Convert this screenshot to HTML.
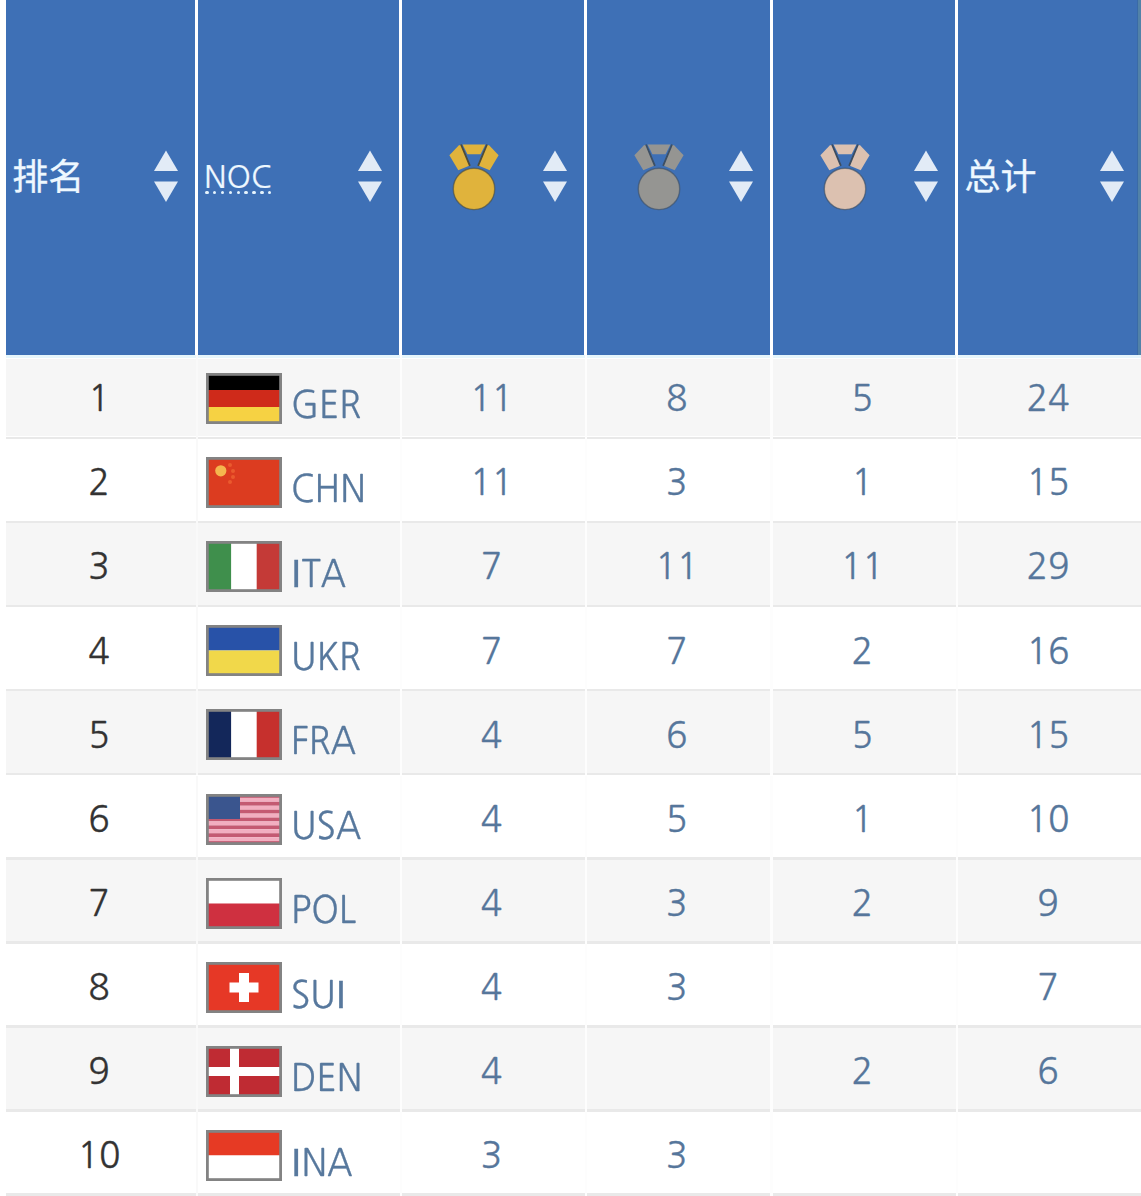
<!DOCTYPE html><html><head><meta charset="utf-8"><title>Medal table</title><style>
*{margin:0;padding:0;box-sizing:border-box}
html,body{width:1141px;height:1196px;overflow:hidden;background:#fff}
body{position:relative;font-family:"Liberation Sans","Noto Sans CJK SC",sans-serif}
.h{position:absolute;top:0;height:355px;background:#3e70b6}
.hl{position:absolute;color:#eef8ff;font-size:34px;line-height:1;white-space:nowrap}
.cj{font-family:"Noto Sans CJK SC","WenQuanYi Zen Hei",sans-serif;font-weight:400;-webkit-text-stroke:0.3px #eef8ff}
.noc{font-family:"NanumGothic","Liberation Sans",sans-serif;font-size:31px;-webkit-text-stroke:0.2px #eef8ff}
.dots i{position:absolute;top:190.5px;width:3.4px;height:3.4px;border-radius:50%;background:#e6f4fd}
.arr{position:absolute;filter:blur(0.6px)}
.medal{position:absolute;filter:blur(0.35px)}
.r{position:absolute;left:6px;width:1135px;height:84px}
.r .bg{position:absolute;left:0;right:0;top:0;height:81.5px}
.r .bd{position:absolute;left:0;right:0;top:81.5px;height:2.5px;background:#e9e9e9}
.g .bg{background:#f6f6f6}
.sep{position:absolute;top:0;height:84px;width:2.8px;background:#fdfdfd}
.sep.f{background:#f9f9f9;width:2.4px}
.n{position:absolute;font-family:"NanumGothic","Liberation Sans",sans-serif;font-size:35.5px;line-height:1;white-space:nowrap;color:#56769b;text-align:center}
.rk{color:#333}
.li{font-family:"Liberation Sans",sans-serif;font-size:39.5px}
.n,.code{-webkit-text-stroke:0.3px currentColor}
.flag{position:absolute}
.code{position:absolute;font-family:"NanumGothic","Liberation Sans",sans-serif;font-size:37px;line-height:1;color:#57789d;white-space:nowrap;transform-origin:0 0;transform:scaleX(0.95)}
</style></head><body>
<div class="h" style="left:6.0px;width:189.0px"></div>
<div class="h" style="left:198.0px;width:201.0px"></div>
<div class="h" style="left:402.0px;width:182.0px"></div>
<div class="h" style="left:587.0px;width:182.5px"></div>
<div class="h" style="left:772.5px;width:182.5px"></div>
<div class="h" style="left:958.0px;width:183.0px"></div>
<div style="position:absolute;left:1137px;top:0;width:1px;height:355px;background:#3a6aa6"></div>
<div style="position:absolute;left:1138px;top:0;width:3px;height:355px;background:#5282a8"></div>
<div class="hl cj" style="left:12.3px;top:155.5px;font-size:36px">排名</div>
<div class="hl noc" style="left:204px;top:161px">NOC</div>
<div class="dots"><i style="left:205.20px"></i><i style="left:213.05px"></i><i style="left:220.90px"></i><i style="left:228.75px"></i><i style="left:236.60px"></i><i style="left:244.45px"></i><i style="left:252.30px"></i><i style="left:260.15px"></i><i style="left:268.00px"></i></div>
<div class="hl cj" style="left:964.4px;top:155.5px;font-size:36px">总计</div>
<div class="arr" style="left:153.0px;top:150px"><svg style="display:block" width="26" height="54" viewBox="0 0 26 54"><path d="M13 0.5 L25 21 L1 21 Z" fill="#e2ebf6"/><path d="M1 31.5 L25 31.5 L13 52 Z" fill="#e2ebf6"/></svg></div>
<div class="arr" style="left:357.0px;top:150px"><svg style="display:block" width="26" height="54" viewBox="0 0 26 54"><path d="M13 0.5 L25 21 L1 21 Z" fill="#e2ebf6"/><path d="M1 31.5 L25 31.5 L13 52 Z" fill="#e2ebf6"/></svg></div>
<div class="arr" style="left:542.0px;top:150px"><svg style="display:block" width="26" height="54" viewBox="0 0 26 54"><path d="M13 0.5 L25 21 L1 21 Z" fill="#e2ebf6"/><path d="M1 31.5 L25 31.5 L13 52 Z" fill="#e2ebf6"/></svg></div>
<div class="arr" style="left:727.5px;top:150px"><svg style="display:block" width="26" height="54" viewBox="0 0 26 54"><path d="M13 0.5 L25 21 L1 21 Z" fill="#e2ebf6"/><path d="M1 31.5 L25 31.5 L13 52 Z" fill="#e2ebf6"/></svg></div>
<div class="arr" style="left:913.0px;top:150px"><svg style="display:block" width="26" height="54" viewBox="0 0 26 54"><path d="M13 0.5 L25 21 L1 21 Z" fill="#e2ebf6"/><path d="M1 31.5 L25 31.5 L13 52 Z" fill="#e2ebf6"/></svg></div>
<div class="arr" style="left:1099.0px;top:150px"><svg style="display:block" width="26" height="54" viewBox="0 0 26 54"><path d="M13 0.5 L25 21 L1 21 Z" fill="#e2ebf6"/><path d="M1 31.5 L25 31.5 L13 52 Z" fill="#e2ebf6"/></svg></div>
<div class="medal" style="left:445.5px;top:142px"><svg style="display:block" width="56" height="72" viewBox="0 0 56 72"><path d="M3.4 13.2 L12.9 3.2 L15.2 2.9 L23.8 23.6 L12.3 28.2 Z" fill="#e0b33c"/><path d="M52.6 13.2 L43.1 3.2 L40.8 2.9 L32.2 23.6 L43.7 28.2 Z" fill="#e0b33c"/><path d="M16.6 2.6 L39.4 2.6 L34.6 12.2 L21.4 12.2 Z" fill="#e0b33c"/><path d="M15.0 2.5 L23.9 23.9 M41.0 2.5 L32.1 23.9" fill="none" stroke="#4f4c38" stroke-width="1.8"/><circle cx="28" cy="46.9" r="20.7" fill="#e0b33c" stroke="#4f4c38" stroke-opacity="0.6" stroke-width="1.4"/></svg></div>
<div class="medal" style="left:630.8px;top:142px"><svg style="display:block" width="56" height="72" viewBox="0 0 56 72"><path d="M3.4 13.2 L12.9 3.2 L15.2 2.9 L23.8 23.6 L12.3 28.2 Z" fill="#959592"/><path d="M52.6 13.2 L43.1 3.2 L40.8 2.9 L32.2 23.6 L43.7 28.2 Z" fill="#959592"/><path d="M16.6 2.6 L39.4 2.6 L34.6 12.2 L21.4 12.2 Z" fill="#959592"/><path d="M15.0 2.5 L23.9 23.9 M41.0 2.5 L32.1 23.9" fill="none" stroke="#3d4f63" stroke-width="1.8"/><circle cx="28" cy="46.9" r="20.7" fill="#959592" stroke="#3d4f63" stroke-opacity="0.6" stroke-width="1.4"/></svg></div>
<div class="medal" style="left:816.6px;top:142px"><svg style="display:block" width="56" height="72" viewBox="0 0 56 72"><path d="M3.4 13.2 L12.9 3.2 L15.2 2.9 L23.8 23.6 L12.3 28.2 Z" fill="#dcc1b0"/><path d="M52.6 13.2 L43.1 3.2 L40.8 2.9 L32.2 23.6 L43.7 28.2 Z" fill="#dcc1b0"/><path d="M16.6 2.6 L39.4 2.6 L34.6 12.2 L21.4 12.2 Z" fill="#dcc1b0"/><path d="M15.0 2.5 L23.9 23.9 M41.0 2.5 L32.1 23.9" fill="none" stroke="#3d4c5e" stroke-width="1.8"/><circle cx="28" cy="46.9" r="20.7" fill="#dcc1b0" stroke="#3d4c5e" stroke-opacity="0.6" stroke-width="1.4"/></svg></div>
<div class="r g" style="top:355.0px">
<div class="bg" style="top:4.3px;height:77.2px"></div>
<div style="position:absolute;left:0;right:0;top:0;height:2.5px;background:#e6f6fc"></div>
<div class="bd"></div>
<div class="sep f" style="left:189.6px"></div>
<div class="sep" style="left:393.6px"></div>
<div class="sep" style="left:578.6px"></div>
<div class="sep" style="left:764.1px"></div>
<div class="sep" style="left:949.6px"></div>
</div>
<div class="n rk" style="left:4.5px;width:189.0px;top:381.2px">1</div>
<div style="position:absolute;left:206px;top:373.0px"><svg class="flag" width="76" height="51" viewBox="0 0 76 51"><rect x="0" y="0" width="76" height="17" fill="#000"/><rect x="0" y="17" width="76" height="17" fill="#cf2a1a"/><rect x="0" y="34" width="76" height="17" fill="#f6d243"/><rect x="1.4" y="1.4" width="73.2" height="48.2" fill="none" stroke="#838383" stroke-width="2.8"/></svg></div>
<div class="code" style="left:291px;top:386.0px">GER</div>
<div class="n" style="left:400.5px;width:182.0px;top:381.2px">11</div>
<div class="n" style="left:585.5px;width:182.5px;top:381.2px">8</div>
<div class="n" style="left:771.0px;width:182.5px;top:381.2px">5</div>
<div class="n" style="left:956.5px;width:183.0px;top:381.2px">24</div>
<div class="r" style="top:439.1px">
<div class="bg"></div>
<div class="bd"></div>
<div class="sep f" style="left:189.6px"></div>
<div class="sep" style="left:393.6px"></div>
<div class="sep" style="left:578.6px"></div>
<div class="sep" style="left:764.1px"></div>
<div class="sep" style="left:949.6px"></div>
</div>
<div class="n rk" style="left:4.5px;width:189.0px;top:465.3px">2</div>
<div style="position:absolute;left:206px;top:457.1px"><svg class="flag" width="76" height="51" viewBox="0 0 76 51"><rect width="76" height="51" fill="#dc3c20"/><circle cx="14.8" cy="13.8" r="5.6" fill="#f5b64e"/><circle cx="24" cy="8" r="2" fill="#ea5a2e"/><circle cx="27" cy="14" r="2" fill="#ea5a2e"/><circle cx="27" cy="20" r="2" fill="#ea5a2e"/><circle cx="24" cy="25" r="2" fill="#ea5a2e"/><rect x="1.4" y="1.4" width="73.2" height="48.2" fill="none" stroke="#838383" stroke-width="2.8"/></svg></div>
<div class="code" style="left:291px;top:470.1px">CHN</div>
<div class="n" style="left:400.5px;width:182.0px;top:465.3px">11</div>
<div class="n" style="left:585.5px;width:182.5px;top:465.3px">3</div>
<div class="n" style="left:771.0px;width:182.5px;top:465.3px">1</div>
<div class="n" style="left:956.5px;width:183.0px;top:465.3px">15</div>
<div class="r g" style="top:523.2px">
<div class="bg"></div>
<div class="bd"></div>
<div class="sep f" style="left:189.6px"></div>
<div class="sep" style="left:393.6px"></div>
<div class="sep" style="left:578.6px"></div>
<div class="sep" style="left:764.1px"></div>
<div class="sep" style="left:949.6px"></div>
</div>
<div class="n rk" style="left:4.5px;width:189.0px;top:549.4px">3</div>
<div style="position:absolute;left:206px;top:541.2px"><svg class="flag" width="76" height="51" viewBox="0 0 76 51"><rect width="25.3" height="51" fill="#3f8f4c"/><rect x="25.3" width="25.4" height="51" fill="#fff"/><rect x="50.7" width="25.3" height="51" fill="#c43a37"/><rect x="1.4" y="1.4" width="73.2" height="48.2" fill="none" stroke="#838383" stroke-width="2.8"/></svg></div>
<div class="code" style="left:291px;top:554.2px"><span class="li">I</span>TA</div>
<div class="n" style="left:400.5px;width:182.0px;top:549.4px">7</div>
<div class="n" style="left:585.5px;width:182.5px;top:549.4px">11</div>
<div class="n" style="left:771.0px;width:182.5px;top:549.4px">11</div>
<div class="n" style="left:956.5px;width:183.0px;top:549.4px">29</div>
<div class="r" style="top:607.3px">
<div class="bg"></div>
<div class="bd"></div>
<div class="sep f" style="left:189.6px"></div>
<div class="sep" style="left:393.6px"></div>
<div class="sep" style="left:578.6px"></div>
<div class="sep" style="left:764.1px"></div>
<div class="sep" style="left:949.6px"></div>
</div>
<div class="n rk" style="left:4.5px;width:189.0px;top:633.5px">4</div>
<div style="position:absolute;left:206px;top:625.3px"><svg class="flag" width="76" height="51" viewBox="0 0 76 51"><rect width="76" height="25.5" fill="#2852a8"/><rect y="25.5" width="76" height="25.5" fill="#f1d84a"/><rect x="1.4" y="1.4" width="73.2" height="48.2" fill="none" stroke="#838383" stroke-width="2.8"/></svg></div>
<div class="code" style="left:291px;top:638.3px">UKR</div>
<div class="n" style="left:400.5px;width:182.0px;top:633.5px">7</div>
<div class="n" style="left:585.5px;width:182.5px;top:633.5px">7</div>
<div class="n" style="left:771.0px;width:182.5px;top:633.5px">2</div>
<div class="n" style="left:956.5px;width:183.0px;top:633.5px">16</div>
<div class="r g" style="top:691.4px">
<div class="bg"></div>
<div class="bd"></div>
<div class="sep f" style="left:189.6px"></div>
<div class="sep" style="left:393.6px"></div>
<div class="sep" style="left:578.6px"></div>
<div class="sep" style="left:764.1px"></div>
<div class="sep" style="left:949.6px"></div>
</div>
<div class="n rk" style="left:4.5px;width:189.0px;top:717.6px">5</div>
<div style="position:absolute;left:206px;top:709.4px"><svg class="flag" width="76" height="51" viewBox="0 0 76 51"><rect width="25.3" height="51" fill="#13275a"/><rect x="25.3" width="25.4" height="51" fill="#fff"/><rect x="50.7" width="25.3" height="51" fill="#c6302d"/><rect x="1.4" y="1.4" width="73.2" height="48.2" fill="none" stroke="#838383" stroke-width="2.8"/></svg></div>
<div class="code" style="left:291px;top:722.4px">FRA</div>
<div class="n" style="left:400.5px;width:182.0px;top:717.6px">4</div>
<div class="n" style="left:585.5px;width:182.5px;top:717.6px">6</div>
<div class="n" style="left:771.0px;width:182.5px;top:717.6px">5</div>
<div class="n" style="left:956.5px;width:183.0px;top:717.6px">15</div>
<div class="r" style="top:775.5px">
<div class="bg"></div>
<div class="bd"></div>
<div class="sep f" style="left:189.6px"></div>
<div class="sep" style="left:393.6px"></div>
<div class="sep" style="left:578.6px"></div>
<div class="sep" style="left:764.1px"></div>
<div class="sep" style="left:949.6px"></div>
</div>
<div class="n rk" style="left:4.5px;width:189.0px;top:801.7px">6</div>
<div style="position:absolute;left:206px;top:793.5px"><svg class="flag" width="76" height="51" viewBox="0 0 76 51"><rect y="0.00" width="76" height="3.92" fill="#c45a72"/><rect y="3.92" width="76" height="3.92" fill="#f2aec0"/><rect y="7.85" width="76" height="3.92" fill="#c45a72"/><rect y="11.77" width="76" height="3.92" fill="#f2aec0"/><rect y="15.69" width="76" height="3.92" fill="#c45a72"/><rect y="19.62" width="76" height="3.92" fill="#f2aec0"/><rect y="23.54" width="76" height="3.92" fill="#c45a72"/><rect y="27.46" width="76" height="3.92" fill="#f2aec0"/><rect y="31.38" width="76" height="3.92" fill="#c45a72"/><rect y="35.31" width="76" height="3.92" fill="#f2aec0"/><rect y="39.23" width="76" height="3.92" fill="#c45a72"/><rect y="43.15" width="76" height="3.92" fill="#f2aec0"/><rect y="47.08" width="76" height="3.92" fill="#c45a72"/><rect width="34" height="25" fill="#3a558e"/><rect x="1.4" y="1.4" width="73.2" height="48.2" fill="none" stroke="#838383" stroke-width="2.8"/></svg></div>
<div class="code" style="left:291px;top:806.5px">USA</div>
<div class="n" style="left:400.5px;width:182.0px;top:801.7px">4</div>
<div class="n" style="left:585.5px;width:182.5px;top:801.7px">5</div>
<div class="n" style="left:771.0px;width:182.5px;top:801.7px">1</div>
<div class="n" style="left:956.5px;width:183.0px;top:801.7px">10</div>
<div class="r g" style="top:859.6px">
<div class="bg"></div>
<div class="bd"></div>
<div class="sep f" style="left:189.6px"></div>
<div class="sep" style="left:393.6px"></div>
<div class="sep" style="left:578.6px"></div>
<div class="sep" style="left:764.1px"></div>
<div class="sep" style="left:949.6px"></div>
</div>
<div class="n rk" style="left:4.5px;width:189.0px;top:885.8px">7</div>
<div style="position:absolute;left:206px;top:877.6px"><svg class="flag" width="76" height="51" viewBox="0 0 76 51"><rect width="76" height="25.5" fill="#fff"/><rect y="25.5" width="76" height="25.5" fill="#cf3040"/><rect x="1.4" y="1.4" width="73.2" height="48.2" fill="none" stroke="#838383" stroke-width="2.8"/></svg></div>
<div class="code" style="left:291px;top:890.6px">POL</div>
<div class="n" style="left:400.5px;width:182.0px;top:885.8px">4</div>
<div class="n" style="left:585.5px;width:182.5px;top:885.8px">3</div>
<div class="n" style="left:771.0px;width:182.5px;top:885.8px">2</div>
<div class="n" style="left:956.5px;width:183.0px;top:885.8px">9</div>
<div class="r" style="top:943.7px">
<div class="bg"></div>
<div class="bd"></div>
<div class="sep f" style="left:189.6px"></div>
<div class="sep" style="left:393.6px"></div>
<div class="sep" style="left:578.6px"></div>
<div class="sep" style="left:764.1px"></div>
<div class="sep" style="left:949.6px"></div>
</div>
<div class="n rk" style="left:4.5px;width:189.0px;top:969.9px">8</div>
<div style="position:absolute;left:206px;top:961.7px"><svg class="flag" width="76" height="51" viewBox="0 0 76 51"><rect width="76" height="51" fill="#e63826"/><rect x="33" y="11" width="10" height="29" fill="#fff"/><rect x="23.5" y="20.5" width="29" height="10" fill="#fff"/><rect x="1.4" y="1.4" width="73.2" height="48.2" fill="none" stroke="#838383" stroke-width="2.8"/></svg></div>
<div class="code" style="left:291px;top:974.7px">SU<span class="li">I</span></div>
<div class="n" style="left:400.5px;width:182.0px;top:969.9px">4</div>
<div class="n" style="left:585.5px;width:182.5px;top:969.9px">3</div>

<div class="n" style="left:956.5px;width:183.0px;top:969.9px">7</div>
<div class="r g" style="top:1027.8px">
<div class="bg"></div>
<div class="bd"></div>
<div class="sep f" style="left:189.6px"></div>
<div class="sep" style="left:393.6px"></div>
<div class="sep" style="left:578.6px"></div>
<div class="sep" style="left:764.1px"></div>
<div class="sep" style="left:949.6px"></div>
</div>
<div class="n rk" style="left:4.5px;width:189.0px;top:1054.0px">9</div>
<div style="position:absolute;left:206px;top:1045.8px"><svg class="flag" width="76" height="51" viewBox="0 0 76 51"><rect width="76" height="51" fill="#bf2b33"/><rect x="24" width="9" height="51" fill="#fff"/><rect y="21" width="76" height="9" fill="#fff"/><rect x="1.4" y="1.4" width="73.2" height="48.2" fill="none" stroke="#838383" stroke-width="2.8"/></svg></div>
<div class="code" style="left:291px;top:1058.8px">DEN</div>
<div class="n" style="left:400.5px;width:182.0px;top:1054.0px">4</div>

<div class="n" style="left:771.0px;width:182.5px;top:1054.0px">2</div>
<div class="n" style="left:956.5px;width:183.0px;top:1054.0px">6</div>
<div class="r" style="top:1111.9px">
<div class="bg"></div>
<div class="bd"></div>
<div class="sep f" style="left:189.6px"></div>
<div class="sep" style="left:393.6px"></div>
<div class="sep" style="left:578.6px"></div>
<div class="sep" style="left:764.1px"></div>
<div class="sep" style="left:949.6px"></div>
</div>
<div class="n rk" style="left:4.5px;width:189.0px;top:1138.1px">10</div>
<div style="position:absolute;left:206px;top:1129.9px"><svg class="flag" width="76" height="51" viewBox="0 0 76 51"><rect width="76" height="25.5" fill="#e63a24"/><rect y="25.5" width="76" height="25.5" fill="#fff"/><rect x="1.4" y="1.4" width="73.2" height="48.2" fill="none" stroke="#838383" stroke-width="2.8"/></svg></div>
<div class="code" style="left:291px;top:1142.9px"><span class="li">I</span>NA</div>
<div class="n" style="left:400.5px;width:182.0px;top:1138.1px">3</div>
<div class="n" style="left:585.5px;width:182.5px;top:1138.1px">3</div>


</body></html>
